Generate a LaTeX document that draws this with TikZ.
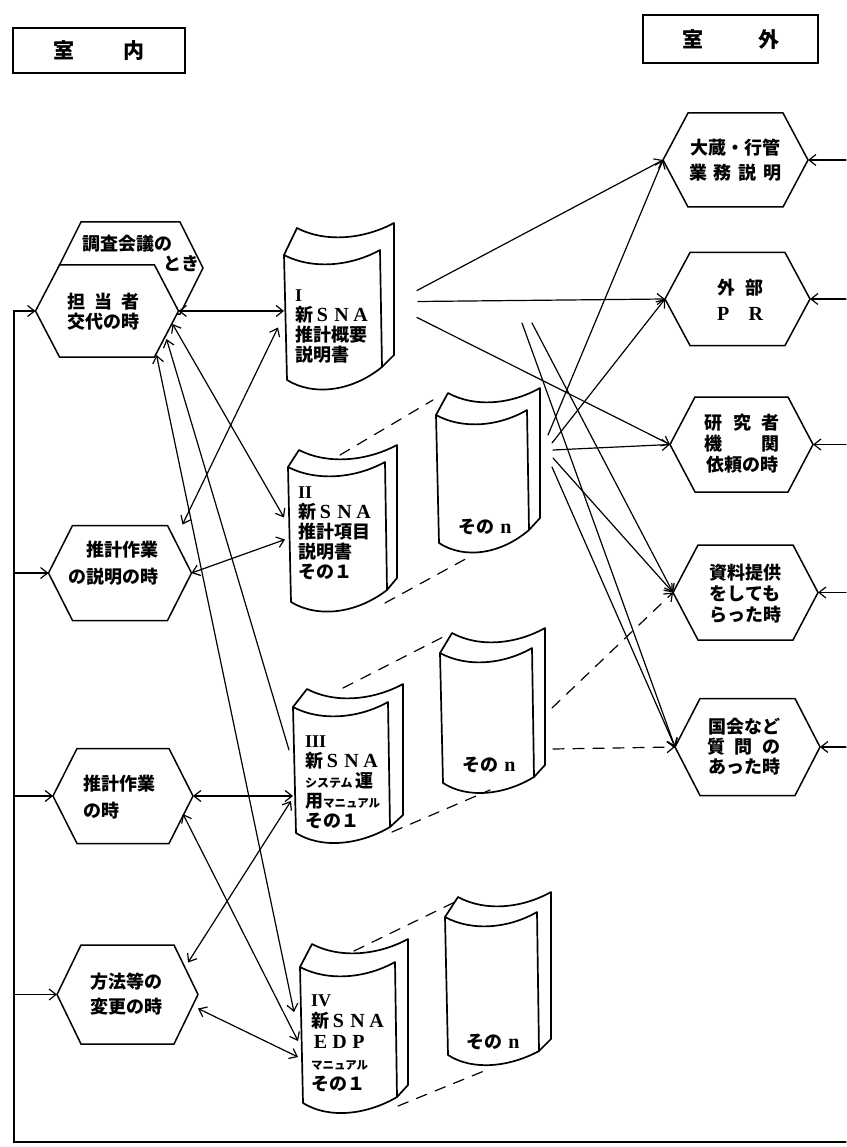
\documentclass[tikz,border=0pt]{standalone}
\usepackage{fontspec}
\setmainfont{Liberation Serif}
\newfontfamily\jp{Noto Sans CJK JP}
\newfontfamily\ser{Liberation Serif}
\usetikzlibrary{arrows.meta,calc}
\newcommand\lat{\ser\bfseries\fontsize{20}{20}\selectfont}
\newcommand\SNA{{\lat\makebox[19pt]{S}\makebox[19pt]{N}\makebox[19pt]{A}}}
\newcommand\EDPtxt{{\lat\makebox[19pt]{E}\makebox[19pt]{D}\makebox[19pt]{P}}}
\newcommand\rn[1]{{\ser\bfseries\fontsize{18}{18}\selectfont #1}}
\newcommand\ls[1]{\fontsize{18}{#1}\selectfont}
\newcommand\smk[2]{{\fontsize{#1}{#1}\selectfont #2}}
\newcommand\hexa[6]{%
  \node[hexnode, minimum width=#4pt, minimum height=#5pt] (#1) at (#2,#3) {};
  \draw[hexline] (#1.west) -- ([xshift=#6pt]#1.north west) -- ([xshift=-#6pt]#1.north east) -- (#1.east) -- ([xshift=-#6pt]#1.south east) -- ([xshift=#6pt]#1.south west) -- cycle;}
\newcommand\book[8]{%
  \node[face, minimum width=#4pt, minimum height=#5pt, anchor=north west] (#1) at (#2,#3) {};
  \begin{scope}[shift={(#2,#3)}]
    \draw[bookline] (0,0) -- (3,#5) .. controls ({0.3*#4},{#5+16}) and ({0.7*#4},{#5+12}) .. ({#4+2},#6) -- (#4,-5) .. controls ({0.7*#4},11) and ({0.3*#4},15) .. cycle;
    \draw[bookline] (0,0) -- (#8,-#7) .. controls ({#8+0.3*#4},{-#7+15}) and ({#8+0.7*#4},{-#7+11}) .. ({#4+#8+1},{-#7-5}) -- ({#4+#8+1},{#6-12}) -- ({#4+2},#6);
  \end{scope}}
\begin{document}
\begin{tikzpicture}[x=1pt,y=-1pt,
  >={Straight Barb[length=7pt,width=11pt]},
  conn/.style={line width=1.2pt, line cap=round},
  dbl/.style={conn,<->},
  sgl/.style={conn,->},
  dsh/.style={conn, dash pattern=on 11pt off 9pt},
  hexnode/.style={inner sep=0pt, outer sep=0pt, draw=none},
  hexline/.style={line width=1.5pt, fill=white, line join=miter},
  face/.style={inner sep=0pt, outer sep=0pt, draw=none},
  bookline/.style={line width=1.7pt, line join=round},
  jt/.style={font=\jp\bfseries\ls{20}, inner sep=0pt, outer sep=0pt},
  labelbox/.style={draw, line width=1.5pt, inner sep=0pt, font=\jp\bfseries\fontsize{21}{21}\selectfont}]
\fill[white] (0,0) rectangle (846,1147);
\useasboundingbox (0,0) rectangle (846,1147);

% header labels
\node[labelbox, minimum width=172pt, minimum height=45pt] (inside) at (99,50.5) {\makebox[91pt][s]{室 内}};
\node[labelbox, minimum width=175pt, minimum height=48pt] (outside) at (730.5,39) {\makebox[97pt][s]{室 外}};

% left hexagons
\hexa{B}{130.5}{268}{145}{92}{23}
\hexa{L1}{107}{311}{143}{92}{24}
\node[jt, align=left, anchor=west] (Bt) at (82,253) {調査会議の\\\hspace*{81pt}とき};
\node[jt, align=center] (L1t) at (103,312) {\makebox[72pt][s]{担 当 者}\\交代の時};
\hexa{L2}{120}{573}{143}{95}{24}
\node[jt, align=right, anchor=east, font=\jp\bfseries\ls{27}] (L2t) at (158,563) {推計作業\\の説明の時};
\hexa{L3}{123}{796}{140}{95}{24}
\node[jt, align=left, anchor=west, font=\jp\bfseries\ls{27}] (L3t) at (83,797) {推計作業\\の時};
\hexa{L4}{127.5}{994.5}{141}{99}{24}
\node[jt, align=center, font=\jp\bfseries\ls{25}] (L4t) at (126.5,994.5) {方法等の\\変更の時};

% right hexagons
\hexa{R1}{735.5}{160}{145}{94}{25}
\node[jt, align=center, font=\jp\bfseries\ls{25}] (R1t) at (735,160) {大蔵・行管\\\makebox[92pt][s]{業 務 説 明}};
\hexa{R2}{737.5}{299}{145}{93}{25}
\node[jt, align=center, font=\jp\bfseries\ls{26}] (R2t) at (740,300) {\makebox[46pt][s]{外 部}\\{\lat\makebox[46pt][s]{P R}}};
\hexa{R3}{741.5}{444.5}{143}{95}{25}
\node[jt, align=center, font=\jp\bfseries\ls{21}] (R3t) at (742,444) {\makebox[75pt][s]{研 究 者}\\\makebox[75pt][s]{機 関}\\依頼の時};
\hexa{R4}{745.5}{592.5}{145}{95}{25}
\node[jt, align=center, font=\jp\bfseries\ls{21}] (R4t) at (745,594) {資料提供\\をしても\\らった時};
\hexa{R5}{747.5}{747}{145}{97}{25}
\node[jt, align=center, font=\jp\bfseries\ls{20}] (R5t) at (744,747) {国会など\\\makebox[73pt][s]{質 問 の}\\あった時};

% books
\book{D1}{284}{255}{96}{125}{112}{27}{13}
\book{D2}{288}{467}{97}{135}{123}{17}{11}
\book{D3}{293}{707}{95}{126}{120}{18}{14}
\book{D4}{300}{967}{95}{136}{130}{23}{12}
\book{D2n}{436}{415}{91}{128}{115}{22}{12}
\book{D3n}{440}{653}{92}{130}{124}{20}{12}
\book{D4n}{445}{917}{92}{138}{134}{20}{13}

\node[jt, align=left, anchor=west] (D1t) at (295,327) {\rn{I}\\新\SNA\\推計概要\\説明書};
\node[jt, align=left, anchor=west] (D2t) at (298,533) {\rn{II}\\新\SNA\\推計項目\\説明書\\その１};
\node[jt, align=left, anchor=west, font=\jp\bfseries\ls{20}] (D3t) at (305,782) {\rn{III}\\新\SNA\\\smk{12}{システム}\,運\\用\smk{11.5}{マニュアル}\\その１};
\node[jt, align=left, anchor=west, font=\jp\bfseries\ls{21}] (D4t) at (311,1043) {\rn{IV}\\新\SNA\\\EDPtxt\\\smk{11.5}{マニュアル}\\その１};
\node[jt] (D2nt) at (485,527) {その\hspace{6pt}{\lat n}};
\node[jt] (D3nt) at (489,765) {その\hspace{6pt}{\lat n}};
\node[jt] (D4nt) at (493,1042) {その\hspace{6pt}{\lat n}};

% loop line
\coordinate (BL) at (14,1142);
\coordinate (BR) at (846,1142);
\draw[sgl] (BR) -- (BL) -- (BL |- L1.west) -- (L1.west);
\draw[sgl] (BL |- L2.west) -- (L2.west);
\draw[sgl] (BL |- L3.west) -- (L3.west);
\draw[sgl] (BL |- L4.west) -- (L4.west);
\draw[sgl] (R1.east -| BR) -- (R1.east);
\draw[sgl] (R2.east -| BR) -- (R2.east);
\draw[sgl] (R3.east -| BR) -- (R3.east);
\draw[sgl] (R4.east -| BR) -- (R4.east);
\draw[sgl] (R5.east -| BR) -- (R5.east);

% left connectors
\draw[dbl] (L1.east) -- (L1.east -| D1.west);
\draw[dbl] ($(L1.east)+(-6,13)$) -- ($(D2.west)+(-4,-17)$);
\draw[sgl] ($(D3.west)+(-4,-20)$) -- ($(L1.east)+(-12,28)$);
\draw[dbl] ($(L1.south east)+(-22,-2)$) -- ($(D4.west)+(-6,-23)$);
\draw[dbl] ($(D1.west)+(-6,10)$) -- ($(L2.north east)+(-9,-1)$);
\draw[dbl] (L2.east) -- ($(D2.west)+(-3,5)$);
\draw[dbl] (L3.east) -- (L3.east -| D3.west);
\draw[dbl] ($(L3.east)+(-10,18)$) -- ($(D4.west)+(-2,6)$);
\draw[dbl] ($(L4.east)+(-10,-32)$) -- ($(D3.west)+(-2,31)$);
\draw[dbl] ($(L4.east)+(0,14)$) -- ($(D4.west)+(-2,22)$);

% right connectors
\draw[sgl] ($(D1.east)+(37,-27)$) -- (R1.west);
\draw[sgl] ($(D1.east)+(38,-16)$) -- (R2.west);
\draw[sgl] ($(D1.east)+(37,0)$) -- (R3.west);
\draw[sgl] ($(D2n.east)+(21,-44)$) -- (R1.west);
\draw[sgl] ($(D2n.east)+(25,-36)$) -- (R2.west);
\draw[sgl] ($(D2n.east)+(26,-29)$) -- (R3.west);
\draw[sgl] ($(D2n.east)+(26,-21)$) -- (R4.west);
\draw[sgl] ($(D2n.east)+(25,-12)$) -- (R5.west);
\coordinate (f1) at (522,323);
\coordinate (f2) at (532,323);
\draw[sgl] (f2) -- (R4.west);
\draw[sgl] (f1) -- (R5.west);
\draw[dsh,->] ($(D3n.east)+(20,-10)$) -- (R4.west);
\draw[dsh,->] ($(D3n.east)+(21,31)$) -- (R5.west);

% dashed perspective lines between books
\draw[dsh] ($(D2.north west)+(52,-12)$) -- ($(D2n.north west)+(-3,-15)$);
\draw[dsh] ($(D2.north west)+(97,136)$) -- ($(D2n.south west)+(35,13)$);
\draw[dsh] ($(D3.north west)+(50,-19)$) -- ($(D3n.north west)+(5,-17)$);
\draw[dsh] ($(D3.north west)+(99,125)$) -- ($(D3n.south west)+(50,7)$);
\draw[dsh] ($(D4.north west)+(54,-16)$) -- ($(D4n.north west)+(12,-16)$);
\draw[dsh] ($(D4.north west)+(98,139)$) -- ($(D4n.south west)+(44,14)$);
\end{tikzpicture}
\end{document}
